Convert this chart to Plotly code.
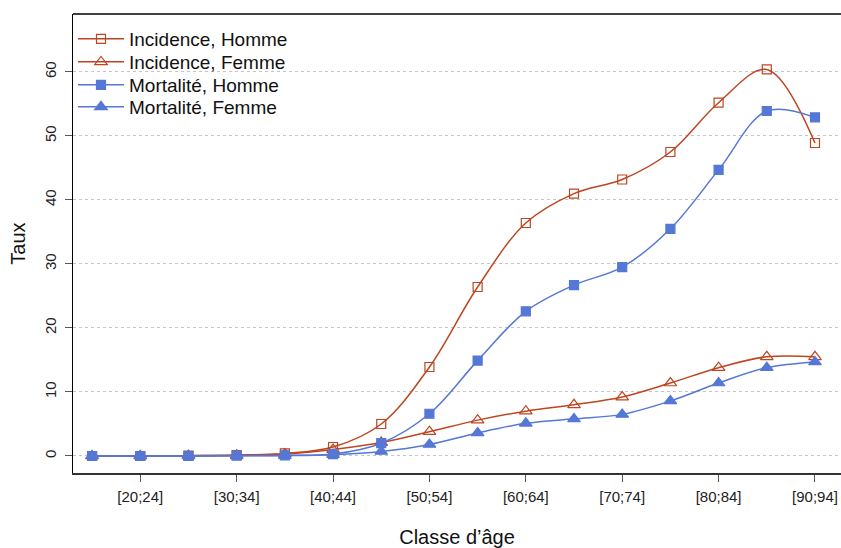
import plotly.graph_objects as go

categories = ["[15;19]", "[20;24]", "[25;29]", "[30;34]", "[35;39]", "[40;44]",
              "[45;49]", "[50;54]", "[55;59]", "[60;64]", "[65;69]", "[70;74]",
              "[75;79]", "[80;84]", "[85;89]", "[90;94]"]
tick_labels = ["[20;24]", "[30;34]", "[40;44]", "[50;54]", "[60;64]", "[70;74]", "[80;84]", "[90;94]"]

incidence_homme = [0.0, 0.0, 0.05, 0.15, 0.4, 1.4, 5.0, 13.9, 26.4, 36.4, 41.0, 43.2, 47.5, 55.2, 60.4, 48.9]
incidence_femme = [0.0, 0.0, 0.05, 0.1, 0.3, 1.0, 2.1, 3.8, 5.6, 7.0, 8.0, 9.2, 11.4, 13.8, 15.5, 15.5]
mortalite_homme = [0.0, 0.0, 0.0, 0.05, 0.1, 0.3, 2.0, 6.6, 14.9, 22.6, 26.7, 29.5, 35.5, 44.7, 53.9, 52.9]
mortalite_femme = [0.0, 0.0, 0.0, 0.02, 0.05, 0.2, 0.7, 1.8, 3.6, 5.1, 5.8, 6.5, 8.6, 11.4, 13.8, 14.7]

RED = "#BE4520"
BLUE = "#5577D5"
FONT = "Liberation Sans, Arial, Helvetica, sans-serif"

series = [
    ("Incidence, Homme", incidence_homme, RED, "square-open", 9, "legend"),
    ("Incidence, Femme", incidence_femme, RED, "triangle-up-open", 11, "legend2"),
    ("Mortalité, Homme", mortalite_homme, BLUE, "square", 9, "legend3"),
    ("Mortalité, Femme", mortalite_femme, BLUE, "triangle-up", 11, "legend4"),
]

fig = go.Figure()
for name, vals, col, sym, size, leg in series:
    fig.add_trace(go.Scatter(
        x=categories, y=vals, name=name, mode="lines+markers", legend=leg,
        line=dict(color=col, width=1.5, shape="spline", smoothing=1.0),
        marker=dict(symbol=sym, size=size, color=col, line=dict(color=col, width=1.2)),
    ))

# legend rows (paper y of row centres)
legend_rows = [0.9455, 0.8954, 0.8453, 0.7974]


def leg(y):
    return dict(x=0.0, y=y, xanchor="left", yanchor="middle",
                bgcolor="rgba(255,255,255,0)", borderwidth=0,
                font=dict(size=19, color="#111111", family=FONT), itemwidth=46)


fig.update_layout(
    width=841, height=548,
    margin=dict(l=73, r=0, t=14, b=75),
    paper_bgcolor="white", plot_bgcolor="white",
    font=dict(family=FONT, color="#222222", size=15),
    showlegend=True,
    legend=leg(legend_rows[0]),
    legend2=leg(legend_rows[1]),
    legend3=leg(legend_rows[2]),
    legend4=leg(legend_rows[3]),
    shapes=[dict(type="line", xref="paper", yref="paper", x0=0, x1=1, y0=1, y1=1,
                 line=dict(color="black", width=1.3))],
)

fig.update_xaxes(
    type="category", categoryorder="array", categoryarray=categories,
    range=[-0.396, 15.54], automargin=False,
    tickmode="array", tickvals=tick_labels, ticktext=tick_labels,
    ticks="outside", ticklen=7, tickcolor="#555555", tickwidth=1,
    ticklabelstandoff=2,
    showline=True, linecolor="#333333", linewidth=2,
    showgrid=False, zeroline=False,
    tickfont=dict(size=15, color="#222222"),
    title=dict(text="Classe d’âge", font=dict(size=20, color="#111111"), standoff=40),
)
fig.update_yaxes(
    range=[-2.66, 69.06], automargin=False,
    tickmode="array", tickvals=[0, 10, 20, 30, 40, 50, 60],
    ticks="outside", ticklen=7, tickcolor="#555555", tickwidth=1,
    tickangle=-90, ticklabelstandoff=3,
    showline=True, linecolor="black", linewidth=1.3,
    showgrid=True, gridcolor="#C4C4C4", gridwidth=1, griddash="3px,3px",
    zeroline=False,
    tickfont=dict(size=15, color="#222222"),
    title=dict(text="Taux", font=dict(size=20, color="#111111"), standoff=10),
)

fig.write_html("out.html")
